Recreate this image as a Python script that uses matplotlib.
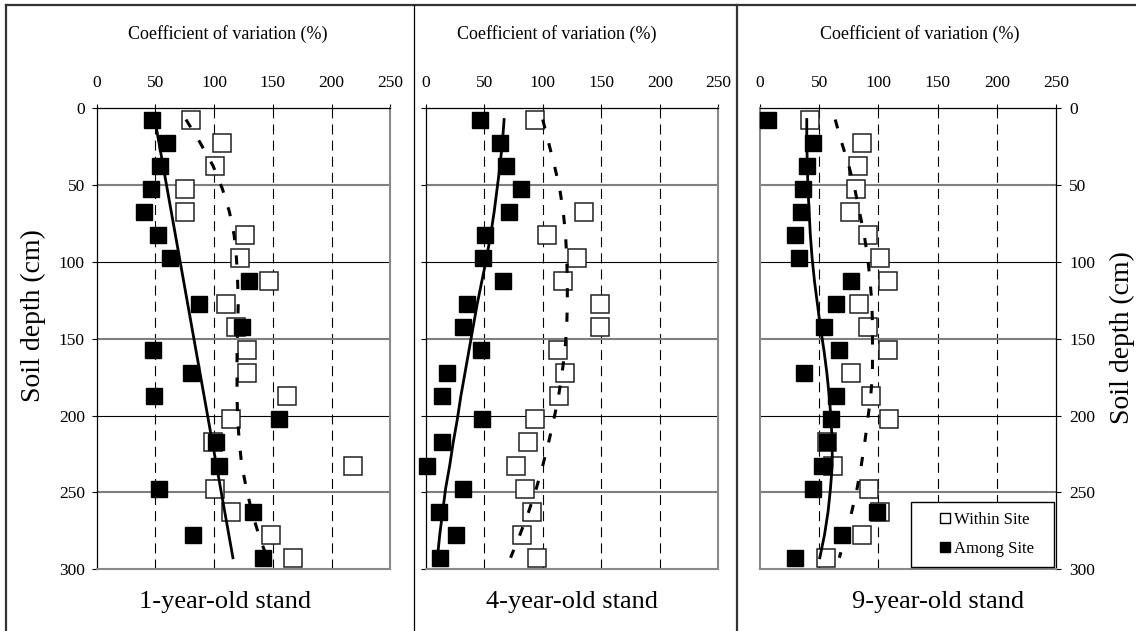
import numpy as np
import matplotlib.pyplot as plt
from matplotlib.lines import Line2D

plt.rcParams['font.family'] = ['Liberation Serif', 'DejaVu Serif']

# sampling depths (cm), midpoints of 15 cm layers
depth = [7.5, 22.5, 37.5, 52.5, 67.5, 82.5, 97.5, 112.5, 127.5, 142.5,
         157.5, 172.5, 187.5, 202.5, 217.5, 232.5, 247.5, 262.5, 277.5, 292.5]

# coefficient of variation (%) for each stand age
within_1yr = [80, 107, 101, 75, 75, 126, 122, 147, 110, 119,
              128, 128, 162, 114, 99, 218, 101, 114, 148, 167]
among_1yr = [47, 60, 54, 46, 40, 52, 62, 130, 87, 124,
             48, 80, 49, 155, 102, 104, 53, 133, 82, 142]
within_1yr_trend = [76, 88, 99, 107, 113, 117, 119, 120, 120.5, 120,
                    119.5, 119.5, 119.5, 120, 121.5, 123.5, 127.5, 132, 138, 145]
among_1yr_trend = [49.5, 53, 56.5, 60, 63.5, 67, 70.5, 74, 77.5, 81,
                   84.5, 88, 91.5, 95, 98.5, 102, 105.5, 109, 112.5, 116]

within_4yr = [93, np.nan, np.nan, np.nan, 135, 104, 129, 117, 149, 149,
              113, 119, 114, 93, 87, 77, 85, 91, 82, 95]
among_4yr = [46, 63.5, 69, 81, 71, 51, 49, 66, 35, 32,
             47, 18.5, 14, 48, 14, 1, 32, 11, 26, 12]
within_4yr_trend = [100, 105, 110, 114.5, 117.5, 119.5, 120.5, 121, 121, 120.5,
                    119, 116.5, 113.5, 109.5, 105, 100, 94.5, 88, 80.5, 72.5]
among_4yr_trend = [67, 65.5, 63.5, 61, 58.5, 55.5, 52, 48, 44, 40.5,
                   37, 33.5, 30, 27, 23.5, 20.5, 17, 14.5, 12, 10]

within_9yr = [42, 86, 82.5, 81, 76, 91, 101, 108, 84, 91,
              108, 77, 94, 109, 57, 62, 92, 101, 86, 56]
among_9yr = [6.5, 44.5, 39.5, 36, 34.5, 29.5, 33, 77, 64, 54,
             67, 37, 64, 60, 57, 52, 44.5, 99, 69, 29.5]
within_9yr_trend = [63.5, 69, 75, 80, 84, 88, 91, 93, 94.5, 95,
                    95, 95, 93.5, 91, 88.5, 85.5, 82, 77.5, 72.5, 67]
among_9yr_trend = [39.5, 39.5, 40, 40.5, 41.5, 42.5, 44, 46, 48.5, 51,
                   54, 56.5, 58.5, 60, 61, 61, 59.5, 57.5, 54.5, 50.5]

stand_titles = ['1-year-old stand', '4-year-old stand', '9-year-old stand']
x_ticks = [0, 50, 100, 150, 200, 250]
y_ticks = [0, 50, 100, 150, 200, 250, 300]

W, H = 1136, 631


def px_box(x0, x1, y0, y1):
    return [x0 / W, 1 - y1 / H, (x1 - x0) / W, (y1 - y0) / H]


fig = plt.figure(figsize=(W / 100, H / 100), dpi=100)

# outer frame and panel separators
fig.add_artist(Line2D([6 / W, 6 / W], [0, 1 - 5 / H], transform=fig.transFigure,
                      color='#333333', lw=1.6))
fig.add_artist(Line2D([6 / W, 1], [1 - 5 / H, 1 - 5 / H], transform=fig.transFigure,
                      color='#333333', lw=1.6))
fig.add_artist(Line2D([414 / W, 414 / W], [0, 1 - 5 / H], transform=fig.transFigure,
                      color='black', lw=0.9))
fig.add_artist(Line2D([737 / W, 737 / W], [0, 1 - 5 / H], transform=fig.transFigure,
                      color='#333333', lw=1.6))

panels = [
    (px_box(96.7, 390.3, 108, 569.3), within_1yr, among_1yr, within_1yr_trend, among_1yr_trend),
    (px_box(425.7, 718.3, 108, 569.3), within_4yr, among_4yr, within_4yr_trend, among_4yr_trend),
    (px_box(760, 1056, 108, 569.3), within_9yr, among_9yr, within_9yr_trend, among_9yr_trend),
]
label_x = [0.448, 0.449, 0.54]
title_x = [0.436, 0.499, 0.602]

for i, (box, within, among, within_trend, among_trend) in enumerate(panels):
    ax = fig.add_axes(box)
    ax.set_xlim(0, 250)
    ax.set_ylim(300, 0)
    ax.xaxis.tick_top()
    ax.set_xticks(x_ticks)
    ax.set_yticks(y_ticks)
    ax.tick_params(axis='x', direction='out', length=3, width=0.8, pad=9, labelsize=12.5)
    if i == 2:
        ax.yaxis.tick_right()
        ax.tick_params(axis='y', direction='out', length=3.5, width=0.8, pad=6, labelsize=12.5)
    else:
        ax.tick_params(axis='y', direction='out', length=3.5, width=0.8, pad=5, labelsize=12.5,
                       labelleft=(i == 0))

    # dashed vertical guides and alternating depth lines
    for v in [50, 100, 150, 200]:
        ax.axvline(v, color='black', lw=0.8, dashes=(9, 5.5), zorder=1)
    for d in [50, 100, 150, 200, 250]:
        if d in (50, 150, 250):
            ax.axhline(d, color='#7f7f7f', lw=1.5, zorder=1)
        else:
            ax.axhline(d, color='black', lw=0.8, zorder=1)

    for side in ['top', 'bottom', 'left', 'right']:
        ax.spines[side].set_color('#8a8a8a')
        ax.spines[side].set_linewidth(1.5)
    ax.spines['top'].set_color('black')
    ax.spines['top'].set_linewidth(0.9)
    axis_side = 'right' if i == 2 else 'left'
    ax.spines[axis_side].set_color('black')
    ax.spines[axis_side].set_linewidth(0.9)

    ax.plot(within, depth, 's', ms=13.4, mfc='white', mec='#222222', mew=1.1,
            ls='none', zorder=3, clip_on=False)
    ax.plot(among, depth, 's', ms=11.8, color='black', ls='none', zorder=4, clip_on=False)
    ax.plot(within_trend, depth, color='black', lw=2.2, dashes=(3.0, 5.0), zorder=5)
    ax.plot(among_trend, depth, color='black', lw=2, zorder=5)

    ax.text(label_x[i], 1.16, 'Coefficient of variation (%)', transform=ax.transAxes,
            ha='center', va='center', fontsize=13)
    ax.text(title_x[i], -0.071, stand_titles[i], transform=ax.transAxes,
            ha='center', va='center', fontsize=19)

    if i == 0:
        ax.text(33 / W, 0.5, 'Soil depth (cm)', transform=fig.transFigure,
                rotation=90, ha='center', va='center', fontsize=20)
    if i == 2:
        fig.text(1122 / W, 1 - 338 / H, 'Soil depth (cm)', rotation=90,
                 ha='center', va='center', fontsize=20)
        handles = [
            Line2D([], [], marker='s', ls='none', ms=7, mfc='white', mec='black', mew=1.0),
            Line2D([], [], marker='s', ls='none', ms=7, color='black'),
        ]
        leg = ax.legend(handles, ['Within Site', 'Among Site'], loc='lower left',
                        bbox_to_anchor=(0.509, 0.0056, 0.484, 0.144), mode='expand',
                        fontsize=12, frameon=True, fancybox=False, framealpha=1,
                        edgecolor='black', borderpad=0.6, labelspacing=0.75,
                        handlelength=2.9, handletextpad=-0.9, borderaxespad=0)
        leg.get_frame().set_linewidth(1.0)

fig.savefig('out.png', dpi=100)
